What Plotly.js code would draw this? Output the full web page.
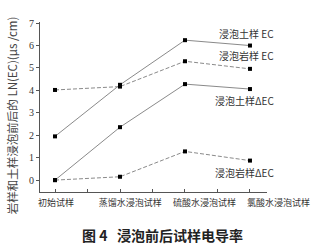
<!DOCTYPE html>
<html><head><meta charset="utf-8">
<script src="https://cdn.plot.ly/plotly-3.0.1.min.js"></script>
<style>html,body{margin:0;padding:0;background:#fff}#c{width:325px;height:251px}</style>
</head><body><div id="c"></div>
<script>
const categories = ["初始试样", "蒸馏水浸泡试样", "硫酸水浸泡试样", "氯酸水浸泡试样"];
const soilEC = [1.95, 4.25, 6.24, 6.0];
const rockEC = [4.02, 4.17, 5.3, 4.96];
const soilDEC = [0.0, 2.36, 4.28, 4.06];
const rockDEC = [0.0, 0.15, 1.28, 0.87];
const seriesNames = ["浸泡土样 EC", "浸泡岩样 EC", "浸泡土样ΔEC", "浸泡岩样ΔEC"];
const yTicks = [0, 1, 2, 3, 4, 5, 6, 7];
const yTitle = "岩样和土样浸泡前后的 LN(EC)(μs /cm)";
const caption = "<b>图 4   浸泡前后试样电导率</b>";

const xi = categories.map((_, i) => i);
const cjk = '"Noto Sans CJK SC", "Liberation Serif", serif';
const lineColor = '#8a8a8a';
function tr(y, name, dash) {
  return {x: xi, y: y, name: name, mode: 'lines+markers', type: 'scatter',
    line: {color: lineColor, width: 1, dash: dash},
    marker: {symbol: 'square', size: 4, color: '#000'}, showlegend: false};
}
const data = [
  {x: [0, 3], y: [null, null], xaxis: 'x2', yaxis: 'y', mode: 'markers', showlegend: false, hoverinfo: 'skip'},
  tr(soilEC, seriesNames[0], 'solid'),
  tr(rockEC, seriesNames[1], '4px,2px'),
  tr(soilDEC, seriesNames[2], 'solid'),
  tr(rockDEC, seriesNames[3], '4px,2px')
];
const W = 325, H = 251, ml = 40, mr = 0, mt = 21.6, mb = 59;
const px = v => (v - ml) / (W - ml - mr);
const py = v => (H - mb - v) / (H - mt - mb);
const labelPos = [[2.95, 6.54], [2.95, 5.56], [2.92, 3.56], [2.92, 0.36]];
const annotations = seriesNames.map((n, i) => ({
  x: labelPos[i][0], y: labelPos[i][1], xref: 'x', yref: 'y', text: n, showarrow: false,
  font: {family: cjk, size: 10, color: '#333'}
}));
annotations.push({x: px(162), y: py(235), xref: 'paper', yref: 'paper', text: caption,
  showarrow: false, xanchor: 'center', yanchor: 'middle',
  font: {family: cjk, size: 14, color: '#222'}});
annotations.push({x: px(12), y: py(115), xref: 'paper', yref: 'paper', text: yTitle,
  showarrow: false, textangle: -90, xanchor: 'center', yanchor: 'middle',
  font: {family: cjk, size: 11.5, color: '#444'}});

const layout = {
  width: W, height: H, margin: {l: ml, r: mr, t: mt, b: mb, pad: 0},
  paper_bgcolor: '#fff', plot_bgcolor: 'rgba(0,0,0,0)', font: {color: '#333'},
  xaxis: {domain: [0, 227 / 285], range: [-0.231, 3.262], showgrid: false, zeroline: false,
    showline: true, linecolor: '#555', linewidth: 1, tickvals: [0, 0.5, 1, 1.5, 2, 2.5, 3],
    ticks: 'inside', ticklen: 3, tickcolor: '#555', showticklabels: false, mirror: false},
  xaxis2: {anchor: 'y', domain: [0, 1], range: [-0.215, 3.625],
    showgrid: false, zeroline: false, showline: false, ticks: '', tickvals: xi, ticktext: categories,
    tickangle: 0, ticklabelstandoff: 4, tickfont: {family: cjk, size: 9, color: '#333'}, side: 'bottom'},
  yaxis: {range: [-0.53, 7.05], showgrid: false, zeroline: false, showline: true,
    linecolor: '#555', linewidth: 1, ticks: 'outside', ticklen: 3, tickcolor: '#555',
    tickvals: yTicks, tickfont: {family: '"Liberation Serif", serif', size: 10, color: '#333'}},
  annotations: annotations
};
Plotly.newPlot('c', data, layout, {staticPlot: true, displayModeBar: false});
</script></body></html>
